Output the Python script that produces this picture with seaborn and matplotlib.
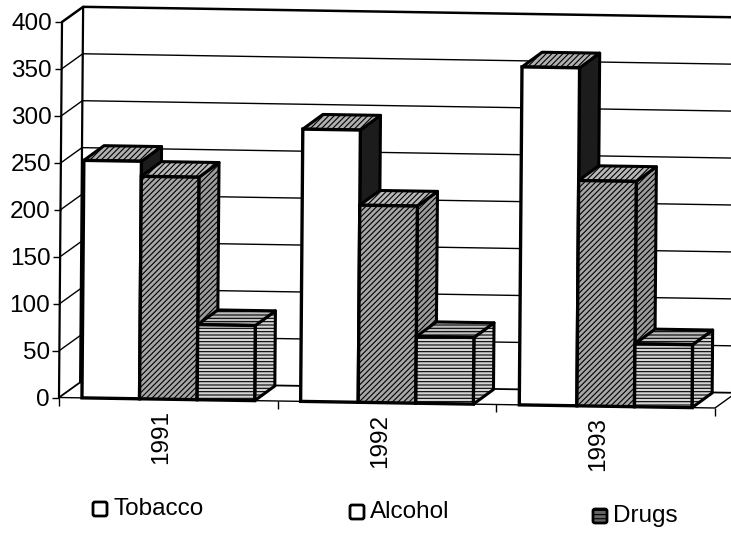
import matplotlib
matplotlib.use("Agg")
import matplotlib.pyplot as plt
import pandas as pd
import seaborn as sns
from matplotlib.patches import FancyBboxPatch, Polygon
from matplotlib.transforms import Affine2D

# Data
years = ["1991", "1992", "1993"]
kinds = ["Tobacco", "Alcohol", "Drugs"]
tobacco = [253, 290, 360]
alcohol = [237, 210, 240]
drugs = [80, 71, 67]
y_ticks = [0, 50, 100, 150, 200, 250, 300, 350, 400]

W, H = 731, 533
X0, X1 = 59, 715      # front plane in pixels
Y0, Y400 = 397.5, 22
DEPTH_X, DEPTH_Y = 21, 15.5   # wall depth in pixels
BAR_DX, BAR_DY = 20, 15       # bar depth in pixels

sns.set_theme(style="white")
plt.rcParams["font.family"] = ["Liberation Sans", "DejaVu Sans"]
plt.rcParams["hatch.linewidth"] = 0.8

df = pd.DataFrame({
    "year": years * 3,
    "kind": [k for k in kinds for _ in years],
    "count": tobacco + alcohol + drugs,
})

fig = plt.figure(figsize=(W / 100, H / 100), dpi=100)
ax = fig.add_axes([X0 / W, 1 - Y0 / H, (X1 - X0) / W, (Y0 - Y400) / H])

sns.barplot(data=df, x="year", y="count", hue="kind", hue_order=kinds, order=years,
            palette=["white"] * 3, width=0.79, gap=0, edgecolor="black", linewidth=2.4,
            legend=False, ax=ax)
ax.set_xlim(-0.5, 2.5)
ax.set_ylim(0, 400)
ax.set_xlabel("")
ax.set_ylabel("")
for s in ax.spines.values():
    s.set_visible(False)

# The scan is slightly skewed, everything goes through this
ox, oy = X0, H - Y0
skew = Affine2D.from_values(1, -0.016, 0.008, 1, 0, 0)
tilt = Affine2D().translate(-ox, -oy) + skew + Affine2D().translate(ox, oy)
data_tr = ax.transData + tilt

per_x = (X1 - X0) / 3
per_y = (Y0 - Y400) / 400
wall_dx, wall_dy = DEPTH_X / per_x, DEPTH_Y / per_y
bar_dx, bar_dy = BAR_DX / per_x, BAR_DY / per_y

# Walls, floor and gridlines
line_kw = dict(color="black", transform=data_tr, clip_on=False, solid_capstyle="round", zorder=2)
for t in y_ticks[1:-1]:
    ax.plot([-0.5, -0.5 + wall_dx, 2.5 + wall_dx], [t, t + wall_dy, t + wall_dy], lw=1, **line_kw)
ax.plot([-0.5, -0.5 + wall_dx, 2.5 + wall_dx], [400, 400 + wall_dy, 400 + wall_dy], lw=1.8, **line_kw)
ax.plot([-0.5, -0.5 + wall_dx, 2.5 + wall_dx], [0, wall_dy, wall_dy], lw=1.3, **line_kw)
ax.plot([-0.5, -0.5], [0, 400], lw=1.6, **line_kw)
ax.plot([-0.5 + wall_dx] * 2, [wall_dy, 400 + wall_dy], lw=1.6, **line_kw)
ax.plot([-0.5, 2.5, 2.5 + wall_dx], [0, 0, wall_dy], lw=1, **line_kw)

front = {"Tobacco": ("white", None), "Alcohol": ("#a6a6a6", "//////"), "Drugs": ("#d4d4d4", "-----")}
side = {"Tobacco": ("#1c1c1c", None), "Alcohol": ("#9c9c9c", "//////"), "Drugs": ("#d4d4d4", "-----")}
top = {"Tobacco": ("#b0b0b0", "//////"), "Alcohol": ("#b8b8b8", "//////"), "Drugs": ("#bdbdbd", "-----")}

bars = []
for kind, cont in zip(kinds, ax.containers):
    bars += [(kind, b) for b in cont]
bars.sort(key=lambda kb: kb[1].get_x())

for i, (kind, bar) in enumerate(bars):
    x, w, h = bar.get_x(), bar.get_width(), bar.get_height()
    z = 3 + i * 0.1
    side_pts = [(x + w, 0), (x + w + bar_dx, bar_dy), (x + w + bar_dx, h + bar_dy), (x + w, h)]
    top_pts = [(x, h), (x + bar_dx, h + bar_dy), (x + w + bar_dx, h + bar_dy), (x + w, h)]
    for pts, style, dz in [(side_pts, side[kind], 0), (top_pts, top[kind], 0.01)]:
        ax.add_patch(Polygon(pts, closed=True, facecolor=style[0], hatch=style[1], edgecolor="black",
                             linewidth=2.2, joinstyle="round", transform=data_tr, clip_on=False, zorder=z + dz))
    bar.set_facecolor(front[kind][0])
    bar.set_hatch(front[kind][1])
    bar.set_transform(data_tr)
    bar.set_clip_on(False)
    bar.set_zorder(z + 0.02)

# Ticks
ax.set_yticks(y_ticks)
ax.set_xticks([0, 1, 2], years, rotation=90, va="top", ha="center")
ax.set_xticks([-0.5, 0.5, 1.5, 2.5], minor=True)
ax.tick_params(axis="y", which="major", left=True, length=5, width=1, pad=2, labelsize=17.5, color="black", labelcolor="black")
ax.tick_params(axis="x", which="major", bottom=False, length=0, pad=8, labelsize=17.5, labelcolor="black")
ax.tick_params(axis="x", which="minor", bottom=True, length=6, width=1, color="black")

shift = tilt + Affine2D().translate(-7, 0)
for tick in ax.yaxis.get_major_ticks() + ax.xaxis.get_minor_ticks():
    tick.tick1line.set_transform(tick.tick1line.get_transform() + tilt)
for tick in ax.yaxis.get_major_ticks():
    tick.label1.set_transform(tick.label1.get_transform() + tilt)
for tick in ax.xaxis.get_major_ticks():
    tick.label1.set_transform(tick.label1.get_transform() + shift)

# Legend, spread out like in the original
box_left = [92, 349, 592]
box_mid = [509, 512, 516]
box_fill = ["white", "white", "#666666"]
box_hatch = [None, None, "----"]
for name, bx, by, fill, hatch in zip(kinds, box_left, box_mid, box_fill, box_hatch):
    fig.add_artist(FancyBboxPatch((bx + 1, H - by - 7), 14, 14, boxstyle="round,pad=0,rounding_size=2",
                                  facecolor=fill, hatch=hatch, edgecolor="black", linewidth=2,
                                  transform=None))
    fig.text((bx + 21) / W, 1 - by / H, name, fontsize=17.5, color="black", ha="left", va="center")

fig.savefig("out.png", dpi=100)
